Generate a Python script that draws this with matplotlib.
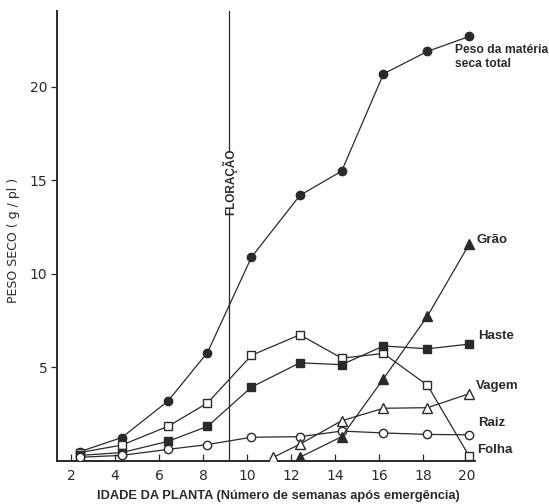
import matplotlib
matplotlib.use("Agg")
import matplotlib.pyplot as plt

plt.rcParams['font.family'] = ['DejaVu Sans']
NARROW = ['Liberation Sans', 'DejaVu Sans']

# Data (weeks after emergence)
weeks = [2.4, 4.3, 6.4, 8.2, 10.2, 12.4, 14.3, 16.2, 18.2, 20.1]
total = [0.5, 1.25, 3.2, 5.8, 10.9, 14.2, 15.5, 20.7, 21.9, 22.7]
folha = [0.45, 0.85, 1.85, 3.1, 5.65, 6.75, 5.5, 5.75, 4.05, 0.25]
haste = [0.3, 0.45, 1.05, 1.85, 3.95, 5.25, 5.15, 6.15, 6.0, 6.25]
raiz = [0.2, 0.3, 0.62, 0.88, 1.27, 1.3, 1.6, 1.5, 1.42, 1.4]
vagem_weeks = [11.2, 12.4, 14.3, 16.2, 18.2, 20.1]
vagem = [0.2, 0.9, 2.15, 2.82, 2.85, 3.6]
grao_weeks = [12.4, 14.3, 16.2, 18.2, 20.1]
grao = [0.2, 1.3, 4.4, 7.75, 11.6]

flowering_week = 9.2
xticks = [2, 4, 6, 8, 10, 12, 14, 16, 18, 20]
yticks = [5, 10, 15, 20]

series_labels = {
    'total': 'Peso da matéria\nseca total',
    'grao': 'Grão',
    'haste': 'Haste',
    'vagem': 'Vagem',
    'raiz': 'Raiz',
    'folha': 'Folha',
}

ink = '#2a2a2a'
fig = plt.figure(figsize=(5.49, 5.04), dpi=100)
ax = fig.add_axes([57/549, 1-461/504, (475-57)/549, (461-11)/504])

lw = 0.9
ms = 6
ax.plot(weeks, total, '-o', color=ink, lw=lw, ms=ms, mfc=ink, mec=ink, zorder=3)
ax.plot(weeks, folha, '-s', color=ink, lw=lw, ms=ms, mfc='white', mec=ink, mew=1.0, zorder=3)
ax.plot(weeks, haste, '-s', color=ink, lw=lw, ms=ms, mfc=ink, mec=ink, zorder=3)
ax.plot(weeks, raiz, '-o', color=ink, lw=lw, ms=ms, mfc='white', mec=ink, mew=1.0, zorder=3)
ax.plot(vagem_weeks, vagem, '-^', color=ink, lw=lw, ms=ms+0.5, mfc='white', mec=ink, mew=1.0, zorder=3)
ax.plot(grao_weeks, grao, '-^', color=ink, lw=lw, ms=ms+0.5, mfc=ink, mec=ink, zorder=3)

xmin, xmax = 1.36, 20.36
ymin, ymax = 0, 24.06
ax.set_xlim(xmin, xmax)
ax.set_ylim(ymin, ymax)

# Flowering line with gap for label
ax.plot([flowering_week, flowering_week], [16.6, ymax], color=ink, lw=0.9, zorder=2)
ax.plot([flowering_week, flowering_week], [ymin, 13.3], color=ink, lw=0.9, zorder=2)
ax.text(flowering_week, 14.95, 'FLORAÇÃO', rotation=90, ha='center', va='center',
        fontsize=8.5, fontweight='bold', family=NARROW, color=ink)

for s in ['top', 'right']:
    ax.spines[s].set_visible(False)
for s in ['left', 'bottom']:
    ax.spines[s].set_color(ink)
    ax.spines[s].set_linewidth(1.4)

ax.set_xticks(xticks)
ax.set_yticks(yticks)
ax.tick_params(axis='x', direction='in', length=5, width=0.9, colors=ink, labelsize=10, pad=6)
ax.tick_params(axis='y', direction='out', length=4, width=0.9, colors=ink, labelsize=10, pad=3)

ax.set_xlabel('IDADE DA PLANTA (Número de semanas após emergência)', fontsize=9.3,
              fontweight='bold', family=NARROW, color=ink, labelpad=5)
ax.xaxis.label.set_x(0.529)
fig.text(14/549, 1-240/504, 'PESO SECO ( g / pl )', rotation=90, ha='center', va='center',
         fontsize=9, color=ink)

tkw = dict(fontsize=9.5, fontweight='bold', family=NARROW, color=ink, clip_on=False,
           ha='left', va='center')
ax.text(19.45, 22.3, series_labels['total'], va='top', ha='left', fontsize=8.7,
        fontweight='bold', family=NARROW, color=ink, clip_on=False, linespacing=1.2)
ax.text(20.45, 11.8, series_labels['grao'], **tkw)
ax.text(20.5, 6.7, series_labels['haste'], **tkw)
ax.text(20.42, 4.0, series_labels['vagem'], **tkw)
ax.text(20.5, 2.05, series_labels['raiz'], **tkw)
ax.text(20.45, 0.6, series_labels['folha'], **tkw)

fig.savefig('out.png', dpi=100, facecolor='white')
